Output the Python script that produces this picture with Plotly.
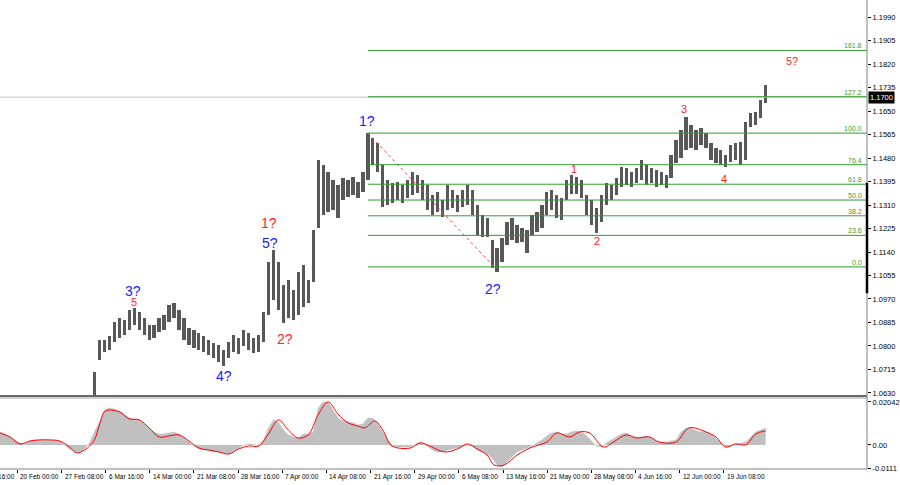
import plotly.graph_objects as go

# ---------------- data ----------------
bar_x = list(range(95, 771, 5))  # bar index (time), 1 unit per 4H bar
highs = [
    1.0706, 1.0822, 1.0822, 1.0836, 1.0887, 1.0901, 1.0894, 1.0930, 1.0937, 1.0923,
    1.0901, 1.0876, 1.0876, 1.0901, 1.0912, 1.0948, 1.0956, 1.0930, 1.0901, 1.0865,
    1.0858, 1.0847, 1.0836, 1.0822, 1.0811, 1.0804, 1.0786, 1.0814, 1.0840, 1.0829,
    1.0858, 1.0847, 1.0829, 1.0840, 1.0923, 1.1104, 1.1147, 1.1104, 1.1021, 1.1039,
    1.1003, 1.1068, 1.1093, 1.1039, 1.1220, 1.1473, 1.1455, 1.1429, 1.1400, 1.1382,
    1.1408, 1.1400, 1.1411, 1.1393, 1.1429, 1.1570, 1.1552, 1.1534, 1.1455, 1.1400,
    1.1390, 1.1393, 1.1382, 1.1400, 1.1429, 1.1419, 1.1400, 1.1382, 1.1346, 1.1357,
    1.1328, 1.1382, 1.1364, 1.1346, 1.1364, 1.1382, 1.1364, 1.1310, 1.1274, 1.1263,
    1.1183, 1.1155, 1.1191, 1.1249, 1.1263, 1.1238, 1.1227, 1.1220, 1.1274, 1.1285,
    1.1310, 1.1357, 1.1364, 1.1346, 1.1335, 1.1400, 1.1419, 1.1411, 1.1400, 1.1346,
    1.1328, 1.1299, 1.1346, 1.1390, 1.1382, 1.1408, 1.1448, 1.1444, 1.1429, 1.1444,
    1.1473, 1.1455, 1.1444, 1.1437, 1.1429, 1.1419, 1.1491, 1.1545, 1.1581, 1.1628,
    1.1599, 1.1581, 1.1589, 1.1570, 1.1534, 1.1516, 1.1509, 1.1491, 1.1527, 1.1534,
    1.1538, 1.1610, 1.1643, 1.1646, 1.1690, 1.1744,
]
lows = [
    1.0612, 1.0749, 1.0778, 1.0786, 1.0814, 1.0829, 1.0840, 1.0858, 1.0876, 1.0858,
    1.0840, 1.0822, 1.0829, 1.0851, 1.0858, 1.0887, 1.0901, 1.0858, 1.0822, 1.0804,
    1.0793, 1.0786, 1.0778, 1.0767, 1.0757, 1.0742, 1.0728, 1.0757, 1.0778, 1.0771,
    1.0800, 1.0786, 1.0775, 1.0778, 1.0814, 1.0912, 1.0966, 1.0930, 1.0883, 1.0901,
    1.0894, 1.0912, 1.0941, 1.0956, 1.1031, 1.1227, 1.1274, 1.1285, 1.1292, 1.1263,
    1.1328, 1.1339, 1.1346, 1.1335, 1.1357, 1.1400, 1.1455, 1.1429, 1.1303, 1.1310,
    1.1317, 1.1328, 1.1317, 1.1335, 1.1346, 1.1353, 1.1328, 1.1292, 1.1274, 1.1285,
    1.1267, 1.1292, 1.1299, 1.1285, 1.1303, 1.1310, 1.1274, 1.1202, 1.1194, 1.1194,
    1.1082, 1.1068, 1.1104, 1.1165, 1.1183, 1.1173, 1.1176, 1.1136, 1.1202, 1.1212,
    1.1227, 1.1274, 1.1292, 1.1263, 1.1256, 1.1328, 1.1350, 1.1350, 1.1335, 1.1274,
    1.1238, 1.1209, 1.1249, 1.1310, 1.1328, 1.1346, 1.1375, 1.1382, 1.1375, 1.1390,
    1.1400, 1.1382, 1.1390, 1.1375, 1.1382, 1.1372, 1.1408, 1.1462, 1.1480, 1.1509,
    1.1516, 1.1509, 1.1527, 1.1516, 1.1473, 1.1462, 1.1455, 1.1448, 1.1466, 1.1473,
    1.1455, 1.1473, 1.1592, 1.1599, 1.1625, 1.1679,
]

hist_x = list(range(0, 771, 5))
macd_hist = [
    0.0062, 0.0052, 0.0038, 0.0024, 0.0010, 0.0005, 0.0019, 0.0024, 0.0024, 0.0024,
    0.0024, 0.0022, 0.0019, 0.0000, -0.0019, -0.0033, -0.0038, -0.0019, 0.0010, 0.0062,
    0.0109, 0.0166, 0.0176, 0.0171, 0.0162, 0.0147, 0.0128, 0.0124, 0.0119, 0.0100,
    0.0081, 0.0062, 0.0052, 0.0052, 0.0057, 0.0062, 0.0052, 0.0033, 0.0014, -0.0005,
    -0.0019, -0.0024, -0.0029, -0.0031, -0.0033, -0.0038, -0.0043, -0.0029, -0.0014, 0.0000,
    0.0005, 0.0005, -0.0005, 0.0024, 0.0081, 0.0119, 0.0109, 0.0071, 0.0048, 0.0038,
    0.0033, 0.0052, 0.0052, 0.0062, 0.0176, 0.0204, 0.0204, 0.0166, 0.0128, 0.0114,
    0.0109, 0.0105, 0.0095, 0.0100, 0.0128, 0.0128, 0.0100, 0.0062, 0.0024, -0.0005,
    -0.0010, -0.0010, -0.0010, -0.0005, 0.0010, 0.0010, -0.0005, -0.0024, -0.0033, -0.0033,
    -0.0024, -0.0019, -0.0014, -0.0010, 0.0000, -0.0005, -0.0024, -0.0033, -0.0043, -0.0062,
    -0.0095, -0.0105, -0.0081, -0.0052, -0.0033, -0.0024, -0.0014, -0.0005, 0.0010, 0.0024,
    0.0043, 0.0057, 0.0062, 0.0052, 0.0052, 0.0062, 0.0067, 0.0062, 0.0043, 0.0019,
    -0.0005, -0.0010, 0.0010, 0.0024, 0.0038, 0.0052, 0.0057, 0.0043, 0.0038, 0.0038,
    0.0043, 0.0033, 0.0019, 0.0014, 0.0014, 0.0019, 0.0024, 0.0062, 0.0081, 0.0081,
    0.0067, 0.0062, 0.0062, 0.0052, 0.0033, 0.0010, -0.0010, -0.0005, 0.0005, 0.0010,
    0.0014, 0.0038, 0.0062, 0.0071, 0.0081,
]
signal_x = [0, 10, 20, 30, 40, 50, 60, 70, 77, 85,
            90, 95, 100, 105, 110, 120, 130, 140, 150, 160,
            170, 180, 190, 200, 210, 220, 230, 240, 250, 260,
            270, 280, 290, 300, 310, 320, 330, 340, 350, 360,
            367, 377, 385, 393, 400, 413, 423, 430, 447, 460,
            470, 480, 490, 497, 507, 520, 533, 550, 560, 573,
            583, 593, 607, 617, 630, 640, 653, 663, 680, 693,
            710, 720, 730, 740, 750, 760, 770]
signal_y = [0.0057, 0.0038, 0.0005, 0.0019, 0.0024, 0.0024, 0.0019, -0.0010, -0.0038, -0.0024,
            -0.0005, 0.0024, 0.0095, 0.0157, 0.0166, 0.0157, 0.0124, 0.0119, 0.0081, 0.0038,
            0.0043, 0.0048, 0.0019, -0.0014, -0.0024, -0.0033, -0.0043, -0.0019, -0.0005, -0.0005,
            0.0052, 0.0119, 0.0071, 0.0033, 0.0048, 0.0143, 0.0204, 0.0147, 0.0105, 0.0090,
            0.0081, 0.0114, 0.0071, 0.0000, -0.0014, -0.0014, 0.0010, 0.0000, -0.0033, -0.0019,
            0.0005, -0.0019, -0.0048, -0.0095, -0.0095, -0.0048, -0.0014, 0.0014, 0.0057, 0.0038,
            0.0062, 0.0057, -0.0010, 0.0014, 0.0048, 0.0033, 0.0038, 0.0014, 0.0014, 0.0081,
            0.0062, 0.0038, -0.0010, 0.0005, 0.0000, 0.0052, 0.0067]

price_ticks = [1.0630, 1.0715, 1.0800, 1.0885, 1.0970, 1.1055, 1.1140, 1.1225, 1.1310,
               1.1395, 1.1480, 1.1565, 1.1650, 1.1735, 1.1820, 1.1905, 1.1990]
macd_ticks = [0.02042, 0.0, -0.0111]
macd_tick_text = ["0.02042", "0.00", "-0.0111"]
current_price = 1.1700

time_labels = ["12 Feb 16:00", "20 Feb 00:00", "27 Feb 08:00", "6 Mar 16:00", "14 Mar 00:00",
               "21 Mar 08:00", "28 Mar 16:00", "7 Apr 00:00", "14 Apr 08:00", "21 Apr 16:00",
               "29 Apr 00:00", "6 May 08:00", "13 May 16:00", "21 May 00:00", "28 May 08:00",
               "4 Jun 16:00", "12 Jun 00:00", "19 Jun 08:00"]
first_label_bar = -26.9
bars_per_label = 44.4

# Fibonacci retracement: from wave 1? high to wave 2? low
fib_high_x, fib_high = 370, 1.1570
fib_low_x, fib_low = 497, 1.1086
fib_ratios = [1.618, 1.272, 1.0, 0.764, 0.618, 0.5, 0.382, 0.236, 0.0]
fib_texts = ["161.8", "127.2", "100.0", "76.4", "61.8", "50.0", "38.2", "23.6", "0.0"]

BLUE = "#1a1aff"
RED = "#ff2626"
wave_labels = [
    ("3?", 134, 1.0999, BLUE, 14), ("5", 135, 1.0959, RED, 11),
    ("4?", 225, 1.0692, BLUE, 14), ("2?", 287, 1.0825, RED, 14),
    ("1?", 271, 1.1245, RED, 14), ("5?", 272, 1.1173, BLUE, 14),
    ("1?", 369, 1.1614, BLUE, 14), ("2?", 496, 1.1006, BLUE, 14),
    ("1", 577, 1.1440, RED, 11), ("2", 600, 1.1180, RED, 11),
    ("3", 688, 1.1657, RED, 11), ("4", 728, 1.1404, RED, 11),
    ("5?", 797, 1.1831, RED, 11),
]

# ---------------- figure ----------------
X_MIN, X_MAX = 0, 872
fig = go.Figure()

fig.add_trace(go.Bar(
    x=bar_x, y=[h - l for h, l in zip(highs, lows)], base=lows,
    width=3.3, marker=dict(color="#585858", line=dict(width=0)),
    xaxis="x", yaxis="y", showlegend=False, hoverinfo="skip"))

fig.add_trace(go.Scatter(
    x=[fib_high_x, fib_low_x], y=[fib_high, fib_low], mode="lines",
    line=dict(color="#ff4040", width=1, dash="dot"),
    xaxis="x", yaxis="y", showlegend=False, hoverinfo="skip"))

fig.add_trace(go.Scatter(
    x=hist_x, y=macd_hist, mode="lines", fill="tozeroy",
    fillcolor="#c0c0c0", line=dict(color="#c0c0c0", width=0.5),
    xaxis="x2", yaxis="y2", showlegend=False, hoverinfo="skip"))

fig.add_trace(go.Scatter(
    x=signal_x, y=signal_y, mode="lines", line=dict(color="#ff0000", width=1, shape="spline"),
    xaxis="x2", yaxis="y2", showlegend=False, hoverinfo="skip"))

shapes = []
shapes.append(dict(type="line", xref="x", yref="y", x0=X_MIN, x1=X_MAX, y0=current_price,
                   y1=current_price, line=dict(color="#c4c4c4", width=1)))
annotations = []
for r, t in zip(fib_ratios, fib_texts):
    lvl = fib_low + r * (fib_high - fib_low)
    shapes.append(dict(type="line", xref="x", yref="y", x0=fib_high_x, x1=X_MAX,
                       y0=lvl, y1=lvl, line=dict(color="#2f9e2f", width=1)))
    annotations.append(dict(x=X_MAX - 3, y=lvl, xref="x", yref="y", text=t, showarrow=False,
                            xanchor="right", yanchor="bottom", yshift=-1,
                            font=dict(family="Liberation Sans", size=7, color="#2f9e2f")))

# panel borders
shapes.append(dict(type="line", xref="paper", yref="y domain", x0=0, x1=1, y0=0, y1=0,
                   line=dict(color="#6a6a6a", width=2)))
shapes.append(dict(type="line", xref="paper", yref="y2 domain", x0=0, x1=1, y0=1, y1=1,
                   line=dict(color="#a0a0a0", width=1)))
shapes.append(dict(type="line", xref="paper", yref="y2 domain", x0=0, x1=1, y0=0, y1=0,
                   line=dict(color="#808080", width=1)))
shapes.append(dict(type="line", xref="paper", yref="paper", x0=1, x1=1, y0=0, y1=1,
                   line=dict(color="#808080", width=1)))
shapes.append(dict(type="line", xref="paper", yref="y", x0=1, x1=1, y0=1.1390, y1=1.0991,
                   line=dict(color="#000000", width=2.5)))

for text, x, y, c, s in wave_labels:
    annotations.append(dict(x=x, y=y, xref="x", yref="y", text=text, showarrow=False,
                            font=dict(family="Liberation Sans", size=s, color=c)))

annotations.append(dict(x=1, y=current_price, xref="paper", yref="y", text="1.1700",
                        showarrow=False, xanchor="left", xshift=1, bgcolor="#000000",
                        borderpad=1, font=dict(family="Liberation Sans", size=7.5, color="#ffffff")))

tick_pos = [first_label_bar + bars_per_label * i for i in range(len(time_labels))]
for p, t in zip(tick_pos, time_labels):
    annotations.append(dict(x=(p + 1 - X_MIN) / (X_MAX - X_MIN), y=0, xref="paper", yref="paper",
                            text=t, showarrow=False, xanchor="left", yanchor="top", yshift=-2,
                            font=dict(family="Liberation Sans", size=6.5, color="#000000")))

tickfont = dict(family="Liberation Sans", size=7.5, color="#000000")
fig.update_layout(
    width=900, height=485,
    margin=dict(l=0, r=28, t=0, b=16),
    paper_bgcolor="white", plot_bgcolor="white",
    bargap=0,
    xaxis=dict(domain=[0, 1], range=[X_MIN, X_MAX], showgrid=False, zeroline=False,
               showticklabels=False, ticks="", anchor="y"),
    yaxis=dict(domain=[0.1557, 1], range=[1.06192, 1.20515], side="right", anchor="x",
               tickmode="array", tickvals=price_ticks,
               ticktext=["%.4f" % v for v in price_ticks], ticks="outside", ticklen=3,
               tickcolor="#000000", tickfont=tickfont, showgrid=False, zeroline=False),
    xaxis2=dict(domain=[0, 1], range=[X_MIN, X_MAX], anchor="y2", showgrid=False, zeroline=False,
                tickmode="array", tickvals=tick_pos, ticks="outside", ticklen=3,
                tickcolor="#000000", showticklabels=False),
    yaxis2=dict(domain=[0, 0.1514], range=[-0.0114, 0.0223], side="right", anchor="x2",
                tickmode="array", tickvals=macd_ticks, ticktext=macd_tick_text,
                ticks="outside", ticklen=3, tickcolor="#000000", tickfont=tickfont,
                showgrid=False, zeroline=False),
    shapes=shapes, annotations=annotations,
)

fig.write_html("out.html", config={"displayModeBar": False},
               post_script="document.body.style.margin='0px';")
